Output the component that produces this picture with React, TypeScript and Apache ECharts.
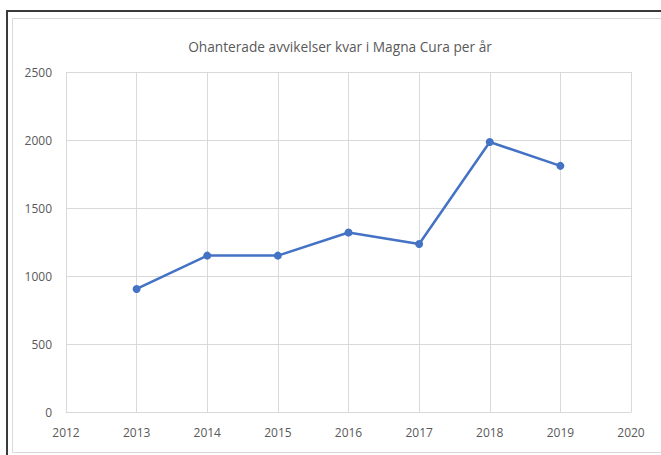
import React, { useEffect, useRef } from "react";
import * as echarts from "echarts";

const title = "Ohanterade avvikelser kvar i Magna Cura per år";
const years = [2013, 2014, 2015, 2016, 2017, 2018, 2019];
const values = [905, 1150, 1150, 1320, 1235, 1985, 1810];
const xRange = [2012, 2020];
const yRange = [0, 2500];
const yStep = 500;

export default function App() {
  const ref = useRef<HTMLDivElement>(null);
  useEffect(() => {
    if (!ref.current) return;
    const chart = echarts.init(ref.current, undefined, { renderer: "svg" });
    const font = "'Open Sans', sans-serif";
    const labelColor = "#595959";
    const gridColor = "#d9d9d9";
    chart.setOption({
      animation: false,
      backgroundColor: "#ffffff",
      title: {
        text: title,
        left: 335,
        textAlign: "center",
        top: 34,
        textStyle: { fontFamily: font, fontSize: 13.7, fontWeight: "normal", color: labelColor },
      },
      graphic: [
        {
          type: "rect",
          shape: { x: 12.5, y: 18.5, width: 700, height: 434 },
          style: { fill: "none", stroke: "#d9d9d9", lineWidth: 1 },
          silent: true,
        },
        {
          type: "line",
          shape: { x1: 7, y1: 11, x2: 661, y2: 11 },
          style: { stroke: "#3a3a3a", lineWidth: 2 },
          silent: true,
        },
        {
          type: "line",
          shape: { x1: 7, y1: 10, x2: 7, y2: 455 },
          style: { stroke: "#3a3a3a", lineWidth: 2 },
          silent: true,
        },
      ],
      grid: { left: 66, right: 30, top: 72, bottom: 43 },
      xAxis: {
        type: "value",
        min: xRange[0],
        max: xRange[1],
        interval: 1,
        axisLine: { show: true, lineStyle: { color: gridColor } },
        axisTick: { show: false },
        splitLine: { show: true, lineStyle: { color: gridColor, width: 1 } },
        axisLabel: {
          formatter: (v: number) => String(v),
          color: labelColor,
          fontFamily: font,
          fontSize: 12,
          margin: 14,
        },
      },
      yAxis: {
        type: "value",
        min: yRange[0],
        max: yRange[1],
        interval: yStep,
        axisLine: { show: false },
        axisTick: { show: false },
        splitLine: { show: true, lineStyle: { color: gridColor, width: 1 } },
        axisLabel: {
          formatter: (v: number) => String(v),
          color: labelColor,
          fontFamily: font,
          fontSize: 12,
          margin: 14,
        },
      },
      series: [
        {
          type: "line",
          data: years.map((y, i) => [y, values[i]]),
          symbol: "circle",
          symbolSize: 8,
          lineStyle: { color: "#4472C4", width: 2.5 },
          itemStyle: { color: "#4472C4" },
        },
      ],
    });
    return () => chart.dispose();
  }, []);
  return (
    <div
      ref={ref}
      style={{ position: "fixed", left: 0, top: 0, width: 661, height: 455 }}
    />
  );
}
